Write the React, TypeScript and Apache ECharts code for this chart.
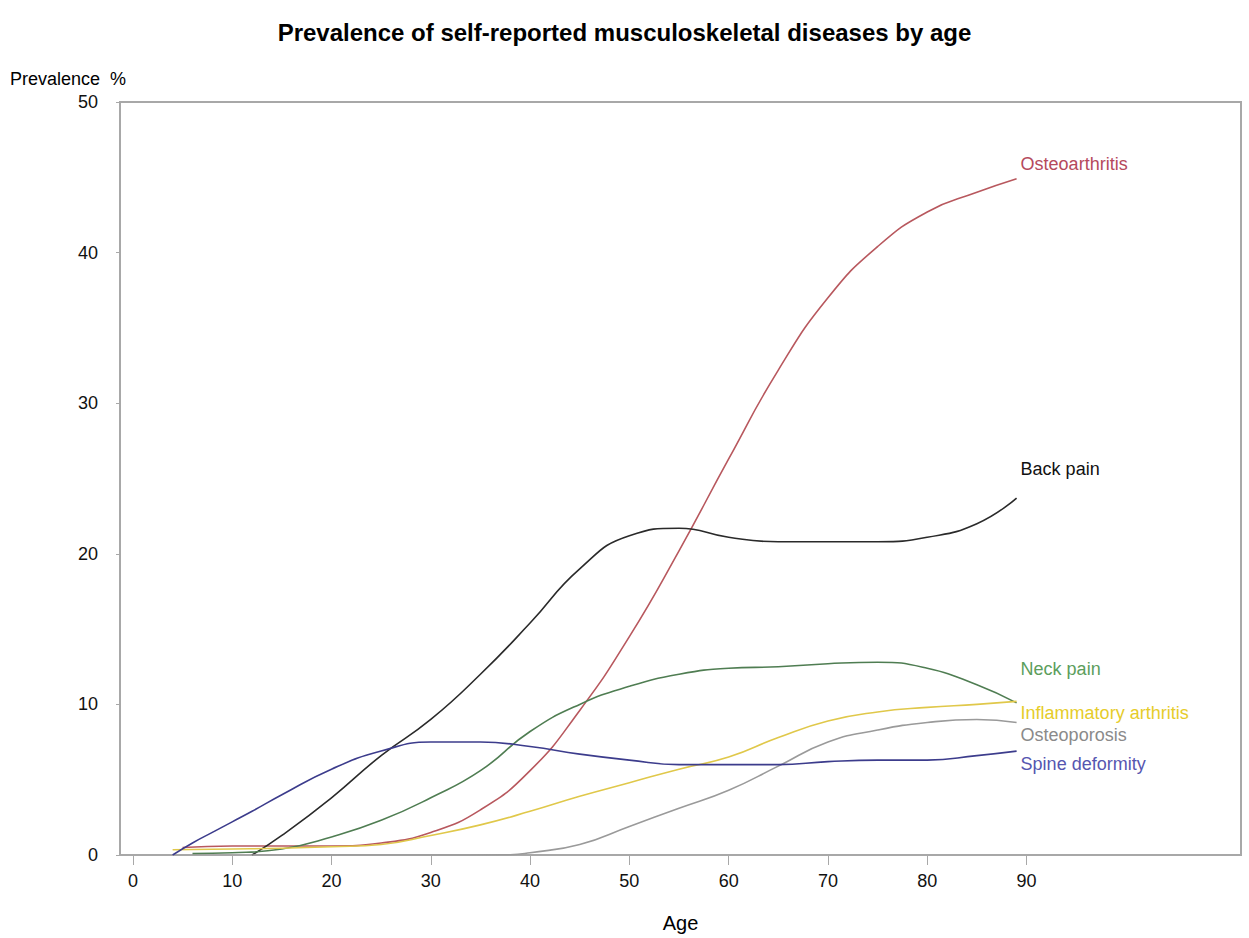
import React, { useEffect, useRef } from "react";
import * as echarts from "echarts";

const xTicks = [0, 10, 20, 30, 40, 50, 60, 70, 80, 90];

const osteoarthritisAges = [5, 10, 15, 20, 25, 30, 35, 40, 45, 50, 55, 60, 65, 70, 75, 80, 85, 89];
const osteoarthritisValues = [0.5, 0.6, 0.6, 0.6, 0.8, 1.5, 3.0, 5.6, 9.6, 14.5, 20.2, 26.3, 32.2, 37.0, 40.4, 42.7, 44.0, 44.9];

const backPainAges = [12, 15, 20, 25, 30, 35, 40, 45, 50, 55, 60, 65, 70, 75, 80, 85, 89];
const backPainValues = [0, 1.3, 3.8, 6.6, 9.0, 12.0, 15.4, 19.0, 21.2, 21.7, 21.1, 20.8, 20.8, 20.8, 21.1, 22.0, 23.7];

const neckPainAges = [6, 10, 15, 20, 25, 30, 35, 40, 45, 50, 55, 60, 65, 70, 75, 80, 85, 89];
const neckPainValues = [0.1, 0.15, 0.4, 1.2, 2.3, 3.8, 5.6, 8.2, 10.0, 11.2, 12.0, 12.4, 12.5, 12.7, 12.8, 12.4, 11.3, 10.1];

const inflammatoryAges = [4, 10, 15, 20, 25, 30, 35, 40, 45, 50, 55, 60, 65, 70, 75, 80, 85, 89];
const inflammatoryValues = [0.35, 0.4, 0.45, 0.55, 0.7, 1.3, 2.0, 2.9, 3.9, 4.8, 5.7, 6.5, 7.8, 8.9, 9.5, 9.8, 10.0, 10.2];

const osteoporosisAges = [12, 20, 30, 38, 40, 45, 50, 55, 60, 65, 70, 75, 80, 85, 89];
const osteoporosisValues = [0, 0, 0, 0.02, 0.15, 0.7, 1.9, 3.1, 4.3, 5.9, 7.5, 8.3, 8.8, 9.0, 8.8];

const spineAges = [4, 6, 8, 10, 12, 15, 20, 25, 30, 35, 40, 45, 50, 55, 60, 65, 70, 75, 80, 85, 89];
const spineValues = [0, 0.8, 1.5, 2.2, 2.9, 4.0, 5.7, 6.9, 7.5, 7.5, 7.2, 6.7, 6.3, 6.0, 6.0, 6.0, 6.2, 6.3, 6.3, 6.6, 6.9];

const seriesDefs = [
  { name: "Osteoarthritis", ages: osteoarthritisAges, values: osteoarthritisValues, line: "#b8585e", text: "#b5495c", dy: -15 },
  { name: "Back pain", ages: backPainAges, values: backPainValues, line: "#2a2a2a", text: "#111111", dy: -29 },
  { name: "Neck pain", ages: neckPainAges, values: neckPainValues, line: "#4f7d52", text: "#5c9e5c", dy: -34 },
  { name: "Inflammatory arthritis", ages: inflammatoryAges, values: inflammatoryValues, line: "#e0c84a", text: "#e6cc2a", dy: 12 },
  { name: "Osteoporosis", ages: osteoporosisAges, values: osteoporosisValues, line: "#9a9a9a", text: "#8a8a8a", dy: 13 },
  { name: "Spine deformity", ages: spineAges, values: spineValues, line: "#3c3c8c", text: "#5656b0", dy: 13 },
];

const FONT = "'Liberation Sans', Arial, sans-serif";

export default function App() {
  const ref = useRef<HTMLDivElement>(null);
  useEffect(() => {
    if (!ref.current) return;
    const chart = echarts.init(ref.current, undefined, { renderer: "svg" });
    chart.setOption({
      animation: false,
      backgroundColor: "#ffffff",
      textStyle: { fontFamily: FONT },
      title: {
        text: "Prevalence of self-reported musculoskeletal diseases by age",
        left: "center",
        top: 15,
        textStyle: { fontFamily: FONT, fontSize: 24, fontWeight: "bold", color: "#000" },
      },
      graphic: [
        {
          type: "text",
          left: 10,
          top: 70,
          style: { text: "Prevalence  %", fontFamily: FONT, fontSize: 18, fill: "#000" },
        },
      ],
      grid: {
        left: 120,
        top: 102,
        width: 1121,
        height: 755,
        show: true,
        borderColor: "#a8a8a8",
        borderWidth: 2,
        backgroundColor: "transparent",
      },
      xAxis: {
        type: "value",
        min: -1.3,
        max: 111.6,
        name: "Age",
        nameLocation: "middle",
        nameGap: 58,
        nameTextStyle: { fontFamily: FONT, fontSize: 20, color: "#000" },
        axisLine: { show: true, onZero: false, lineStyle: { color: "#a8a8a8", width: 2 } },
        axisTick: { show: true, length: 10, customValues: xTicks, lineStyle: { color: "#a8a8a8", width: 1 } },
        axisLabel: { customValues: xTicks, margin: 17, fontFamily: FONT, fontSize: 18, color: "#111" },
        splitLine: { show: false },
      },
      yAxis: {
        type: "value",
        min: 0,
        max: 50,
        interval: 10,
        axisLine: { show: true, onZero: false, lineStyle: { color: "#a8a8a8", width: 2 } },
        axisTick: { show: true, length: 4, lineStyle: { color: "#a8a8a8", width: 1 } },
        axisLabel: { margin: 22, fontFamily: FONT, fontSize: 18, color: "#111" },
        splitLine: { show: false },
      },
      series: seriesDefs.map((s) => ({
        type: "line",
        name: s.name,
        data: s.ages.map((a, i) => [a, s.values[i]]),
        smooth: 0.5,
        symbol: "none",
        lineStyle: { color: s.line, width: 1.6 },
        itemStyle: { color: s.line },
        endLabel: {
          show: true,
          formatter: s.name,
          distance: 4,
          offset: [0, s.dy],
          color: s.text,
          fontFamily: FONT,
          fontSize: 18,
        },
      })),
    });
    return () => chart.dispose();
  }, []);
  return (
    <div
      ref={ref}
      style={{ position: "absolute", left: 0, top: 0, width: 1249, height: 938 }}
    />
  );
}
